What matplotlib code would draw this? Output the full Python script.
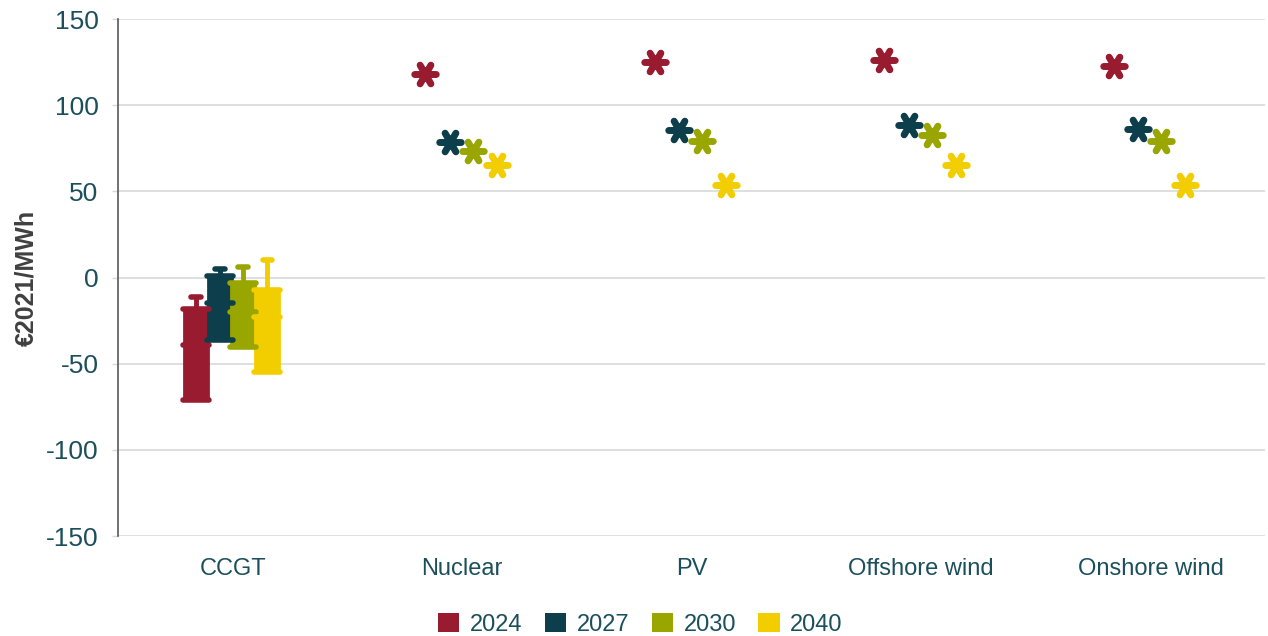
import numpy as np
import matplotlib.pyplot as plt
from matplotlib.path import Path
from matplotlib.markers import MarkerStyle
from matplotlib.patches import Patch

plt.rcParams['font.family'] = ['Liberation Sans', 'DejaVu Sans']
plt.rcParams['axes.unicode_minus'] = False

categories = ['CCGT', 'Nuclear', 'PV', 'Offshore wind', 'Onshore wind']
years = ['2024', '2027', '2030', '2040']
colors = ['#981b30', '#0d3e4b', '#9aa600', '#f2cd00']

# CCGT ranges per year: whisker top, box top, middle mark, box bottom
ccgt_max = [-11, 5, 6, 10]
ccgt_q3 = [-18, 1, -3, -7]
ccgt_mid = [-39, -15, -20, -23]
ccgt_min = [-71, -36, -40, -55]

# point values for the other technologies (Nuclear, PV, Offshore wind, Onshore wind)
points = {
    '2024': [118, 125, 126, 123],
    '2027': [78.5, 85.5, 88.5, 86.5],
    '2030': [73.5, 79, 82.5, 79],
    '2040': [65.5, 53.5, 65.5, 54],
}

offsets = [-0.16, -0.055, 0.045, 0.15]
box_w = 0.105
tick_col = '#1c4f5c'

# six-armed asterisk built from three strokes
ang = np.deg2rad([0, 60, 120])
verts, codes = [], []
for a in ang:
    verts += [(-np.cos(a), -np.sin(a)), (np.cos(a), np.sin(a))]
    codes += [Path.MOVETO, Path.LINETO]
star = MarkerStyle(Path(verts, codes), capstyle='round', joinstyle='round')

fig = plt.figure(figsize=(12.68, 6.36), dpi=100)
ax = fig.add_axes([0.093, 0.157, 0.905, 0.813])

# CCGT boxes
for i, yr in enumerate(years):
    x = 0 + offsets[i]
    c = colors[i]
    ax.vlines(x, ccgt_q3[i], ccgt_max[i], color=c, lw=3.5, capstyle='round', zorder=3)
    ax.hlines(ccgt_max[i], x - 0.02, x + 0.02, color=c, lw=4, capstyle='round', zorder=3)
    ax.bar(x, ccgt_q3[i] - ccgt_min[i], bottom=ccgt_min[i], width=box_w,
           color=c, edgecolor=c, lw=2, joinstyle='round', zorder=3)
    for v in [ccgt_q3[i], ccgt_mid[i], ccgt_min[i]]:
        ax.hlines(v, x - box_w / 2 - 0.004, x + box_w / 2 + 0.004, color=c, lw=4,
                  capstyle='round', zorder=4)

# markers for the other technologies
xs = np.arange(1, len(categories))
for i, yr in enumerate(years):
    ax.plot(xs + offsets[i], points[yr], linestyle='none', marker=star,
            markersize=15.5, markeredgewidth=5, color=colors[i], zorder=5)

ax.set_xlim(-0.5, 4.5)
ax.set_ylim(-150, 150)
ax.set_yticks(range(-150, 151, 50))
ax.set_xticks(range(len(categories)))
ax.set_xticklabels(categories)
ax.grid(axis='y', color='#d9d9d9', lw=1.2, zorder=0)
ax.set_axisbelow(True)
for s in ['top', 'right', 'bottom']:
    ax.spines[s].set_visible(False)
ax.spines['left'].set_color('#595959')
ax.spines['left'].set_linewidth(1.2)
ax.tick_params(axis='y', colors='#d9d9d9', length=4, width=1, labelsize=19,
               labelcolor=tick_col, pad=10)
ax.tick_params(axis='x', length=0, labelsize=17, labelcolor=tick_col, pad=16)
ax.set_ylabel('€2021/MWh', fontsize=18, fontweight='bold', color='#404040', labelpad=5)

handles = [Patch(facecolor=c, label=y) for c, y in zip(colors, years)]
fig.legend(handles=handles, loc='lower center', bbox_to_anchor=(0.505, -0.033), ncol=4,
           frameon=False, fontsize=17, handlelength=0.9, handleheight=0.9,
           handletextpad=0.45, columnspacing=0.95, labelcolor=tick_col)

fig.savefig('out.png', dpi=100)
